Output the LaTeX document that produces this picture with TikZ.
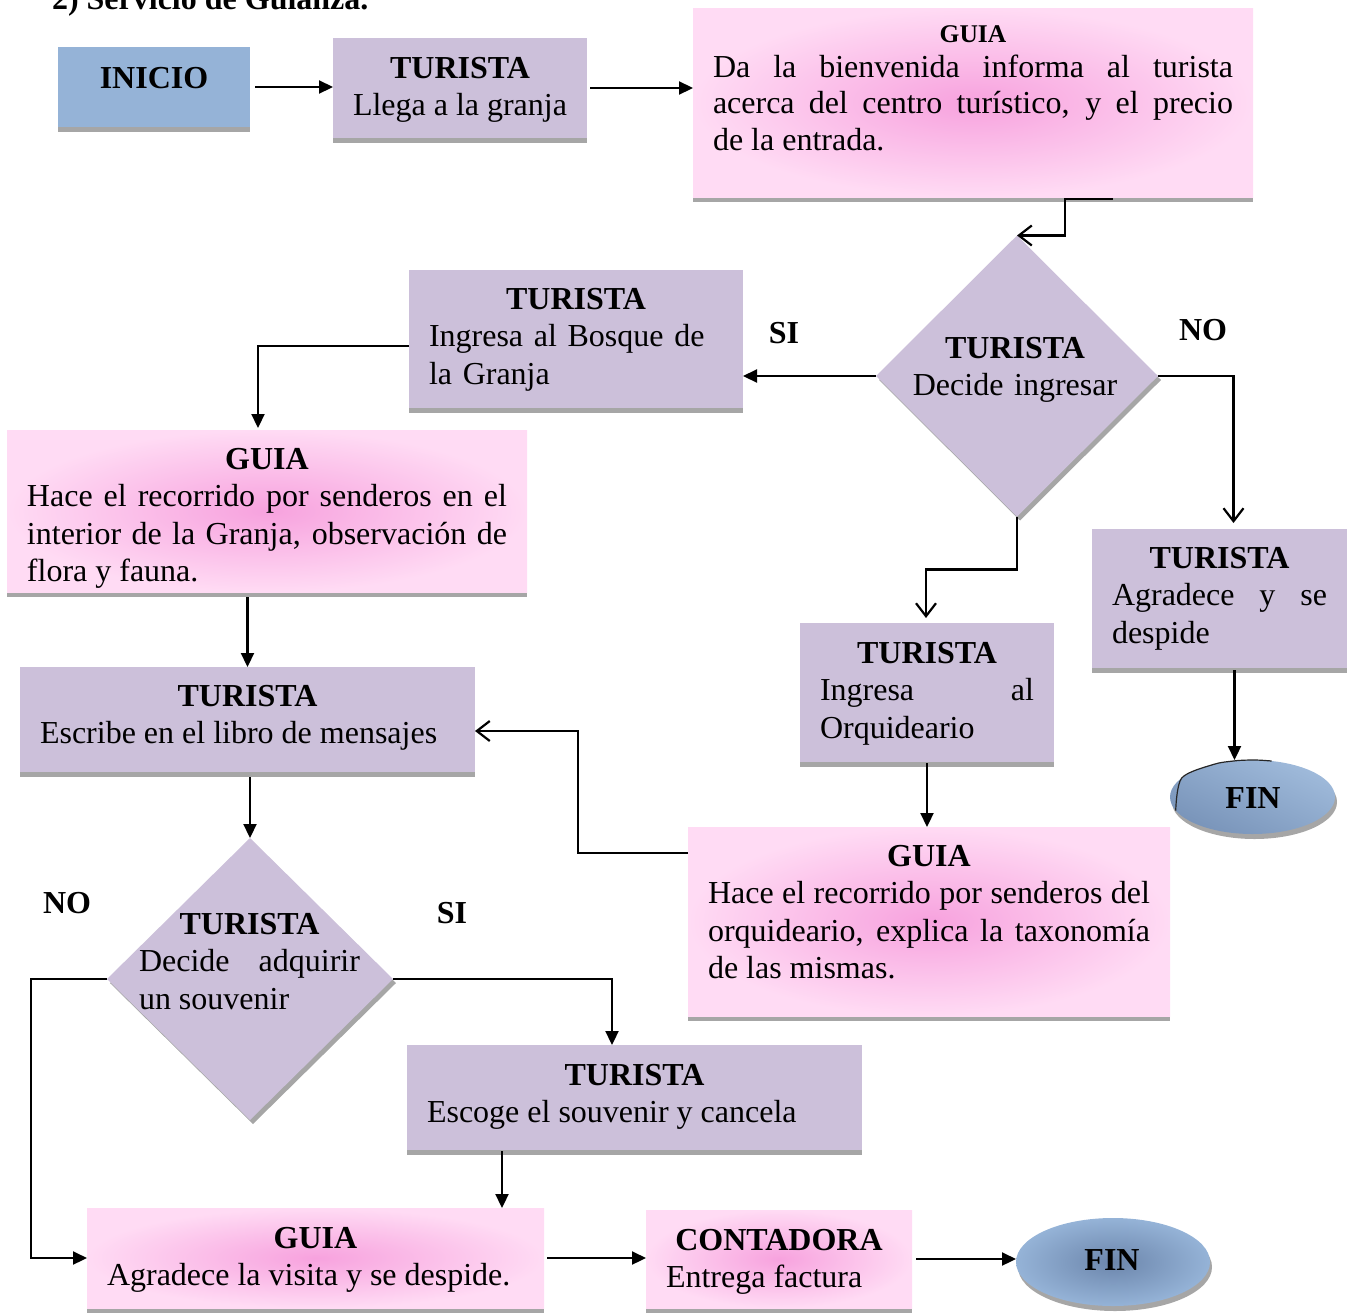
\documentclass[tikz,border=0pt]{standalone}
\usepackage{fontspec}
\setmainfont{Liberation Serif}
\usetikzlibrary{shapes.geometric,shadows,arrows.meta,calc}

\definecolor{lav}{RGB}{204,192,218}
\definecolor{bluebox}{RGB}{149,179,215}
\definecolor{shgray}{RGB}{166,166,166}
\definecolor{pinkin}{RGB}{247,162,222}
\definecolor{pinkout}{RGB}{255,219,244}
\definecolor{findark}{RGB}{108,134,172}

\newcommand{\bodyfont}{\fontsize{32}{37.5}\selectfont}
\newcommand{\headsmall}{\fontsize{25.5}{30}\selectfont}
% centred bold heading line at the top of a justified text block
\newcommand{\headline}[1]{\makebox[\linewidth]{\bfseries #1}\par}

\begin{document}
\begin{tikzpicture}[x=1pt,y=-1pt,
  every node/.style={inner sep=0pt, outer sep=0pt},
  barshadow/.style={general shadow={fill=shgray, shadow xshift=0pt, shadow yshift=-5pt}},
  lavbox/.style={rectangle, fill=lav, barshadow},
  bluebx/.style={rectangle, fill=bluebox, barshadow},
  pinkbox/.style={rectangle, inner color=pinkin, outer color=pinkout, barshadow},
  decision/.style={diamond, fill=lav, general shadow={fill=shgray, shadow xshift=3pt, shadow yshift=-4pt}},
  endoval/.style={ellipse, general shadow={fill=shgray, shadow xshift=2pt, shadow yshift=-5pt}},
  txt/.style={anchor=base west, align=justify, font=\bodyfont},
  lbl/.style={font=\bodyfont\bfseries},
  arr/.style={line width=2.2pt, -{Triangle[length=14pt,width=13pt]}},
  oarr/.style={line width=2.2pt, -{Straight Barb[length=13pt,width=20pt,line width=2.2pt]}}
]
\useasboundingbox (0,0) rectangle (1355,1315);

% heading of the section
\node[anchor=base west, font=\bodyfont\bfseries] (title) at (52,9) {2) Servicio de Guianza.};

% boxes
\node[bluebx, minimum width=192, minimum height=80] (inicio) at (154,87) {};
\node[lavbox, minimum width=254, minimum height=100] (t1) at (460,88) {};
\node[pinkbox, minimum width=560, minimum height=189] (g1) at (973,102.5) {};
\node[decision, minimum width=282, minimum height=281] (d1) at (1017,376) {};
\node[lavbox, minimum width=334, minimum height=138] (t2) at (576,339) {};
\node[pinkbox, minimum width=520, minimum height=162] (g2) at (267,511) {};
\node[lavbox, minimum width=455, minimum height=105] (t3) at (247.5,719.5) {};
\node[decision, minimum width=286, minimum height=282] (d2) at (250,979) {};
\node[lavbox, minimum width=455, minimum height=105] (t4) at (634.5,1097.5) {};
\node[pinkbox, minimum width=457, minimum height=100] (g3) at (315.5,1258) {};
\node[pinkbox, minimum width=266, minimum height=98] (cont) at (779,1259) {};
\node[lavbox, minimum width=254, minimum height=139] (t5) at (927,692.5) {};
\node[pinkbox, minimum width=482, minimum height=189] (g4) at (929,921.5) {};
\node[lavbox, minimum width=255, minimum height=139] (t6) at (1219.5,598.5) {};
\node[endoval, top color=bluebox!90!white, bottom color=findark!70!bluebox, shading angle=-25,
      minimum width=165, minimum height=74] (fin1) at (1252.5,797) {};
\node[endoval, inner color=findark, outer color=bluebox, minimum width=194, minimum height=88] (fin2) at (1113,1262) {};
% dark rim on the upper left of the first end oval
\draw[line width=1.2pt, black!85] plot[smooth] coordinates {(fin1.190) (fin1.165) (fin1.140) (fin1.118) (fin1.100) (fin1.80) (fin1.62)};

% texts
\node[anchor=base, font=\bodyfont\bfseries] (inicio-t) at (154,88) {INICIO};
\node[txt, text width=214] (t1-t) at (353,78) {\headline{TURISTA}Llega a la granja};
\node[txt, text width=520, font=\fontsize{32}{36.5}\selectfont] (g1-t) at (713,42)
  {\headline{\headsmall GUIA}\vspace{-1.5pt}Da la bienvenida informa al turista\linebreak
   acerca del centro turístico, y el precio\linebreak de la entrada.};
\node[txt, text width=300, align=center] (d1-t) at (865,358) {\textbf{TURISTA}\\Decide ingresar};
\node[txt, text width=294, align=left] (t2-t) at (429,309) {\headline{TURISTA}Ingresa al Bosque de\newline la Granja};
\node[txt, text width=480] (g2-t) at (27,469) {\headline{GUIA}Hace el recorrido por senderos en el\linebreak
   interior de la Granja, observación de\linebreak flora y fauna.};
\node[txt, text width=415] (t3-t) at (40,706) {\headline{TURISTA}Escribe en el libro de mensajes};
\node[txt, text width=221] (d2-t) at (139,934) {\headline{TURISTA}Decide adquirir\linebreak un souvenir};
\node[txt, text width=415] (t4-t) at (427,1085) {\headline{TURISTA}Escoge el souvenir y cancela};
\node[txt, text width=417] (g3-t) at (107,1248) {\headline{GUIA}Agradece la visita y se despide.};
\node[txt, text width=226] (cont-t) at (666,1250) {\headline{CONTADORA}Entrega factura};
\node[txt, text width=214] (t5-t) at (820,663) {\headline{TURISTA}Ingresa al\linebreak Orquideario};
\node[txt, text width=442] (g4-t) at (708,866) {\headline{GUIA}Hace el recorrido por senderos del\linebreak
   orquideario, explica la taxonomía\linebreak de las mismas.};
\node[txt, text width=215] (t6-t) at (1112,568) {\headline{TURISTA}Agradece y se\linebreak despide};
\node[anchor=base, font=\bodyfont\bfseries] (fin1-t) at (1253,808) {FIN};
\node[anchor=base, font=\bodyfont\bfseries] (fin2-t) at (1112,1270) {FIN};

% branch labels
\node[lbl] (si1) at (784,333) {SI};
\node[lbl] (no1) at (1203,330) {NO};
\node[lbl] (no2) at (67,903) {NO};
\node[lbl] (si2) at (452,913) {SI};

% connectors
\coordinate (x4) at ($(t4.south)+(-132.5,0)$);
\coordinate (x6) at ($(t6.south)+(15,0)$);
\draw[arr, shorten <=5pt] (inicio.east) -- (inicio.east -| t1.west);
\draw[arr, shorten <=3pt] (t1.east) -- (t1.east -| g1.west);
\draw[oarr] ($(g1.south)+(140,2)$) -- ++(-48,0) |- (d1.north);
\draw[arr] (d1.west) -- (d1.west -| t2.east);
\draw[oarr] (d1.east) -| ($(t6.north)+(14,-6)$);
\draw[oarr] (d1.south) -- ++(0,53) -| ($(t5.north)+(-1,-5)$);
\draw[arr] ($(t2.west)+(0,7)$) -| ($(g2.north)+(-9,-2)$);
\draw[arr, shorten <=5pt] (t3.north |- g2.south) -- (t3.north);
\draw[arr, shorten <=5pt] (t3.south -| d2.north) -- (d2.north);
\draw[arr] (d2.west) -- ++(-76,0) |- (g3.west);
\draw[arr] (d2.east) -| ($(t4.north)+(-22.5,0)$);
\draw[arr, shorten <=1pt] (x4) -- (x4 |- g3.north);
\draw[arr, shorten <=3pt] (g3.east) -- (g3.east -| cont.west);
\draw[arr, shorten <=4pt] (cont.east) -- (cont.east -| fin2.west);
\draw[oarr] ($(g4.north west)+(0,26)$) -- ++(-110,0) |- ($(t3.east)+(0,11.5)$);
\draw[arr, shorten <=1pt] (t5.south) -- (t5.south |- g4.north);
\draw[arr, shorten <=2pt] (x6) -- (x6 |- fin1.north);
\end{tikzpicture}
\end{document}
